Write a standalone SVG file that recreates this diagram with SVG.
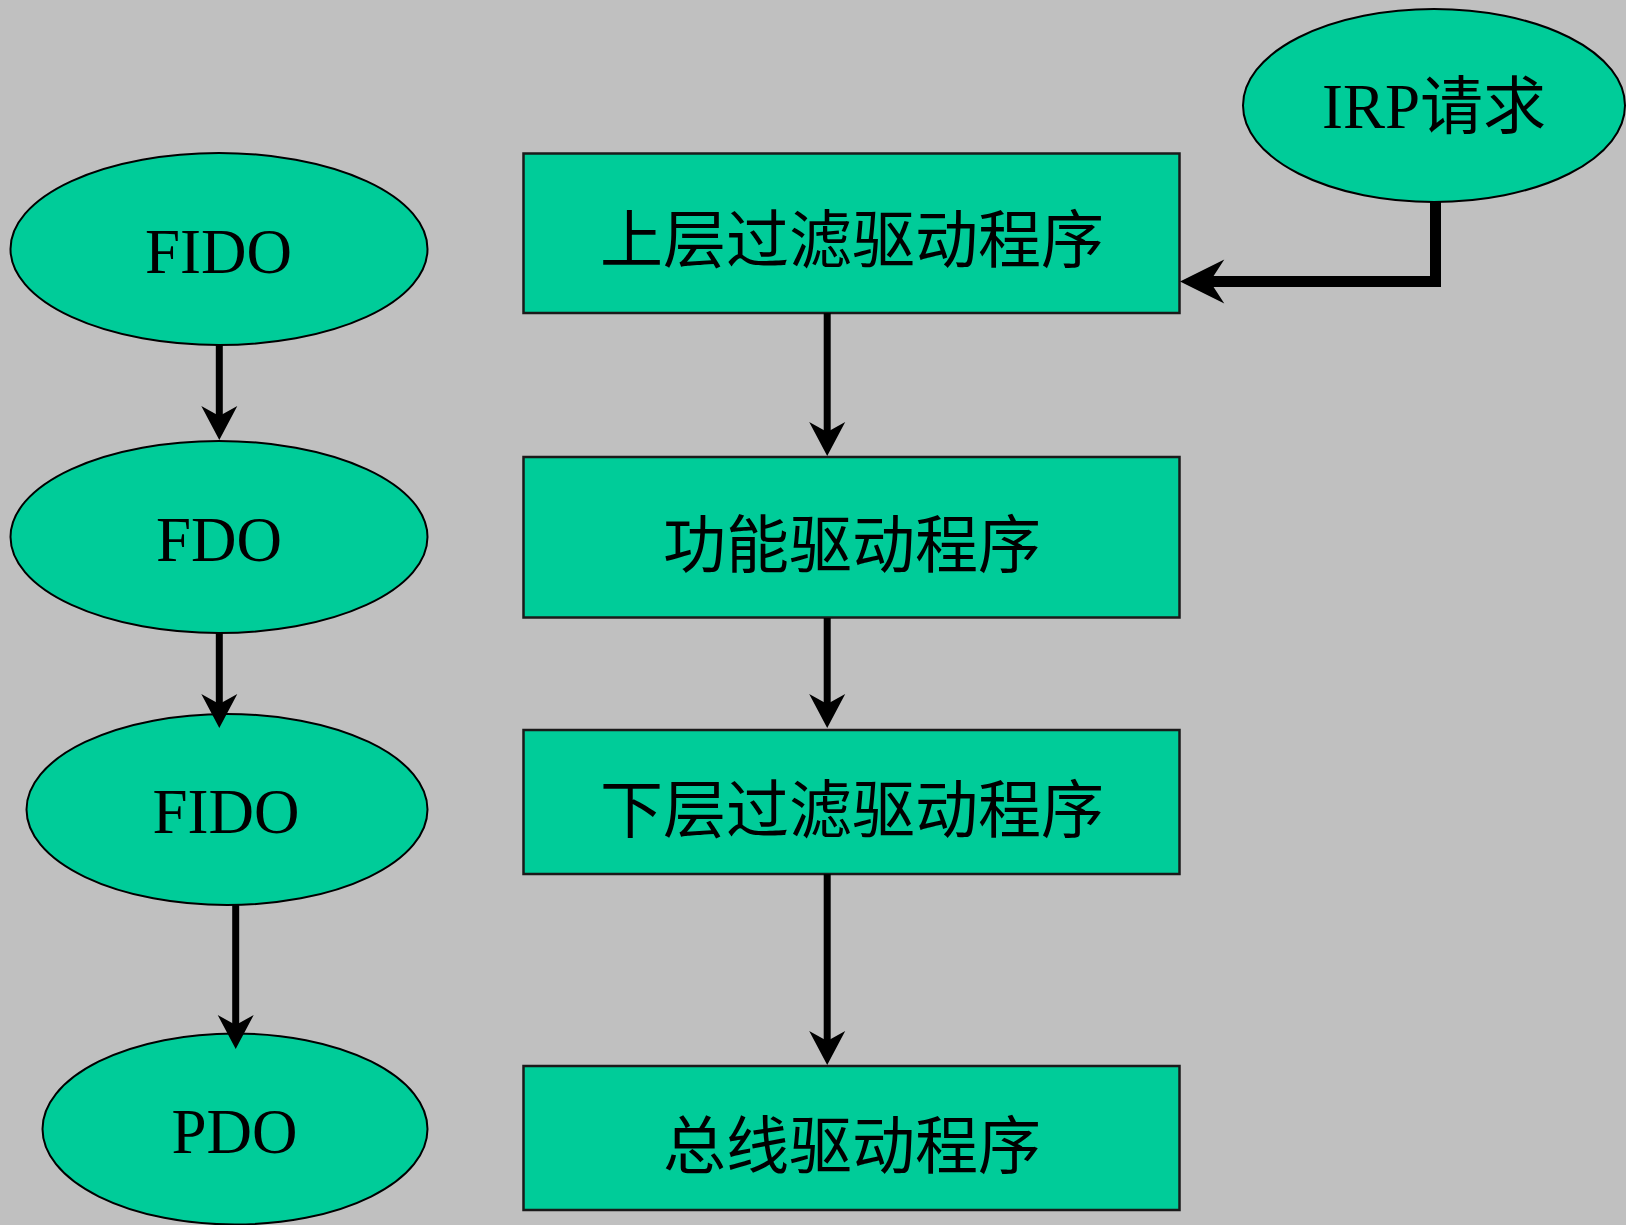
<svg xmlns="http://www.w3.org/2000/svg" width="1626" height="1225" viewBox="0 0 1626 1225">
<style>
.ell{fill:#00CC99;stroke:#000;stroke-width:2}
.box{fill:#00CC99;stroke:#1a1a1a;stroke-width:2.5}
.lat{font-family:"Liberation Serif","Noto Sans CJK SC",serif;font-size:63px;fill:#000;text-anchor:middle}
.cjk{font-family:"Noto Sans CJK SC","Liberation Sans",sans-serif;font-size:63px;fill:#000;text-anchor:middle}
.ln{fill:none;stroke:#000;stroke-width:7}
.lnb{fill:none;stroke:#000;stroke-width:11;stroke-linejoin:miter}
.hd{fill:#000;stroke:none}
</style>
<defs>
<path id="dn" d="M0,0 L-18,-34 L0,-24 L18,-34 Z"/>
</defs>
<rect x="0" y="0" width="1626" height="1225" fill="#C0C0C0"/>
<g id="irp">
<ellipse class="ell" cx="1434" cy="105.5" rx="191" ry="96.5"/>
<text class="lat" x="1434" y="128">IRP请求</text>
</g>
<g id="fido1">
<ellipse class="ell" cx="219" cy="249" rx="208.5" ry="96"/>
<text class="lat" x="218.5" y="273">FIDO</text>
</g>
<g id="fdo">
<ellipse class="ell" cx="219" cy="537" rx="208.5" ry="96"/>
<text class="lat" x="219" y="561">FDO</text>
</g>
<g id="fido2">
<ellipse class="ell" cx="227" cy="809.5" rx="200.5" ry="95.5"/>
<text class="lat" x="226" y="833">FIDO</text>
</g>
<g id="pdo">
<ellipse class="ell" cx="235" cy="1129" rx="192.5" ry="95.5"/>
<text class="lat" x="234.5" y="1153">PDO</text>
</g>
<g id="upper">
<rect class="box" x="523.5" y="153.5" width="656" height="159.5"/>
<text class="cjk" x="852" y="262">上层过滤驱动程序</text>
</g>
<g id="func">
<rect class="box" x="523.5" y="457" width="656" height="160.5"/>
<text class="cjk" x="852" y="567">功能驱动程序</text>
</g>
<g id="lower">
<rect class="box" x="523.5" y="730" width="656" height="144"/>
<text class="cjk" x="852" y="832">下层过滤驱动程序</text>
</g>
<g id="bus">
<rect class="box" x="523.5" y="1066" width="656" height="144"/>
<text class="cjk" x="852" y="1168">总线驱动程序</text>
</g>
<g id="connectors">
<line class="ln" x1="219.3" y1="345" x2="219.3" y2="418"/>
<use href="#dn" class="hd" x="219.3" y="440"/>
<line class="ln" x1="219.3" y1="633" x2="219.3" y2="706"/>
<use href="#dn" class="hd" x="219.3" y="728"/>
<line class="ln" x1="235.7" y1="905" x2="235.7" y2="1027"/>
<use href="#dn" class="hd" x="235.7" y="1049"/>
<line class="ln" x1="827.2" y1="313" x2="827.2" y2="434"/>
<use href="#dn" class="hd" x="827.2" y="456"/>
<line class="ln" x1="827.2" y1="618" x2="827.2" y2="706"/>
<use href="#dn" class="hd" x="827.2" y="728"/>
<line class="ln" x1="827.2" y1="874" x2="827.2" y2="1043"/>
<use href="#dn" class="hd" x="827.2" y="1065"/>
<path class="lnb" d="M1435.5,202 V281.5 H1206"/>
<path class="hd" d="M1180,281.5 L1224.3,259.5 L1210,281.5 L1224.3,303.5 Z"/>
</g>
</svg>
